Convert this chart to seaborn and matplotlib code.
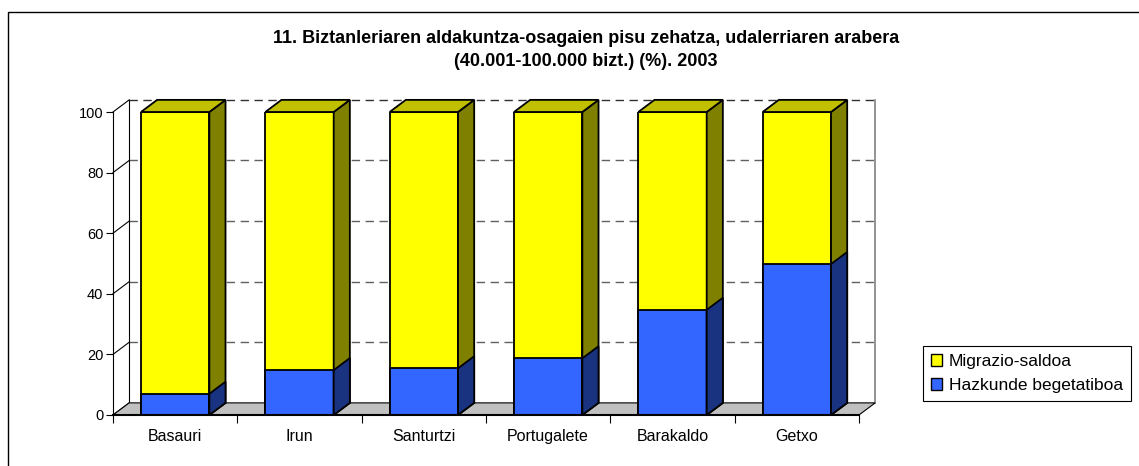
import seaborn as sns
import pandas as pd
import matplotlib.pyplot as plt
from matplotlib.patches import Polygon, Patch, Rectangle

# data (%)
data = {
    "Udalerria": ["Basauri", "Irun", "Santurtzi", "Portugalete", "Barakaldo", "Getxo"],
    "Hazkunde begetatiboa": [7.0, 14.8, 15.4, 18.7, 34.7, 49.8],
}
df = pd.DataFrame(data)
df["Migrazio-saldoa"] = 100 - df["Hazkunde begetatiboa"]
df["Guztira"] = df["Hazkunde begetatiboa"] + df["Migrazio-saldoa"]
print(df)

plt.rcParams["font.family"] = ["Liberation Sans", "DejaVu Sans"]
fig = plt.figure(figsize=(11.39, 4.66), dpi=100)
ax = fig.add_axes([113 / 1139, 1 - 415 / 466, 746 / 1139, 303 / 466])

# depth of the fake 3D look (data units)
dx, dy = 0.13, 4.0
xl, xr = -0.5, 5.5

# stacked bars: total first (yellow), then the blue part on top of it
sns.barplot(data=df, x="Udalerria", y="Guztira", color="#FFFF00", saturation=1, width=0.55,
            edgecolor="black", linewidth=1.3, ax=ax)
sns.barplot(data=df, x="Udalerria", y="Hazkunde begetatiboa", color="#3366FF", saturation=1, width=0.55,
            edgecolor="black", linewidth=1.3, ax=ax)
bars = [p for p in ax.patches if isinstance(p, Rectangle)]

# floor
ax.add_patch(Polygon([(xl, 0), (xr, 0), (xr + dx, dy), (xl + dx, dy)], closed=True,
                     facecolor="#C0C0C0", edgecolor="black", linewidth=0.8, zorder=0.5, clip_on=False))
# back wall grid
for v in [20, 40, 60, 80, 100]:
    ax.plot([xl + dx, xr + dx], [v + dy, v + dy], color="#606060" if v < 100 else "#303030",
            linestyle=(0, (6, 4)), linewidth=1, zorder=0.3, clip_on=False)
ax.plot([xl + dx, xl + dx], [dy, 100 + dy], color="black", linewidth=0.8, zorder=0.3, clip_on=False)
ax.plot([xr + dx, xr + dx], [dy, 100 + dy], color="#808080", linewidth=1.2, zorder=0.3, clip_on=False)
# left wall
ax.plot([xl, xl], [0, 100], color="black", linewidth=0.8, zorder=0.4, clip_on=False)
for v in [0, 20, 40, 60, 80, 100]:
    ax.plot([xl, xl + dx], [v, v + dy], color="black", linewidth=0.8, zorder=0.4, clip_on=False)

# side and top faces
n = len(df)
for i, p in enumerate(bars):
    x, w, h = p.get_x(), p.get_width(), p.get_height()
    side = "#808000" if i < n else "#193380"
    ax.add_patch(Polygon([(x + w, 0), (x + w + dx, dy), (x + w + dx, h + dy), (x + w, h)], closed=True,
                         facecolor=side, edgecolor="black", linewidth=1.3, zorder=2, clip_on=False))
    if i < n:
        ax.add_patch(Polygon([(x, h), (x + dx, h + dy), (x + w + dx, h + dy), (x + w, h)], closed=True,
                             facecolor="#C0C000", edgecolor="black", linewidth=1.3, zorder=2, clip_on=False))

ax.set_xlim(xl, xr)
ax.set_ylim(0, 100)
ax.set_xlabel("")
ax.set_ylabel("")
sns.despine(ax=ax, left=True, bottom=False)
ax.spines["bottom"].set_linewidth(1.5)
ax.spines["bottom"].set_zorder(3)
ax.set_yticks([0, 20, 40, 60, 80, 100])
ax.tick_params(axis="y", length=5, width=0.8, pad=2, labelsize=10.5)
ax.set_xticks(range(n))
ax.set_xticklabels(df["Udalerria"])
ax.set_xticks([i - 0.5 for i in range(n + 1)], minor=True)
ax.tick_params(axis="x", which="major", length=0, pad=10, labelsize=11.5)
ax.tick_params(axis="x", which="minor", length=6, width=0.8)

fig.suptitle("11. Biztanleriaren aldakuntza-osagaien pisu zehatza, udalerriaren arabera\n"
             "(40.001-100.000 bizt.) (%). 2003", x=586 / 1139, y=1 - 30 / 466,
             fontsize=13, fontweight="bold", linespacing=1.45)

handles = [Patch(facecolor="#FFFF00", edgecolor="black"), Patch(facecolor="#3366FF", edgecolor="black")]
leg = fig.legend(handles, ["Migrazio-saldoa", "Hazkunde begetatiboa"], loc="upper left",
                 bbox_to_anchor=(923 / 1139, 1 - 346 / 466), fontsize=12.5, fancybox=False,
                 edgecolor="black", framealpha=1, handlelength=0.65, handleheight=0.65,
                 handletextpad=0.4, borderpad=0.45, labelspacing=0.55, borderaxespad=0)
leg.get_frame().set_linewidth(0.8)

# outer chart border (cut at the right and bottom)
fig.add_artist(Rectangle((8 / 1139, -0.2), 1.5, 1.2 - 12 / 466, transform=fig.transFigure,
                         fill=False, edgecolor="black", linewidth=1))

fig.savefig("out.png", dpi=100)
